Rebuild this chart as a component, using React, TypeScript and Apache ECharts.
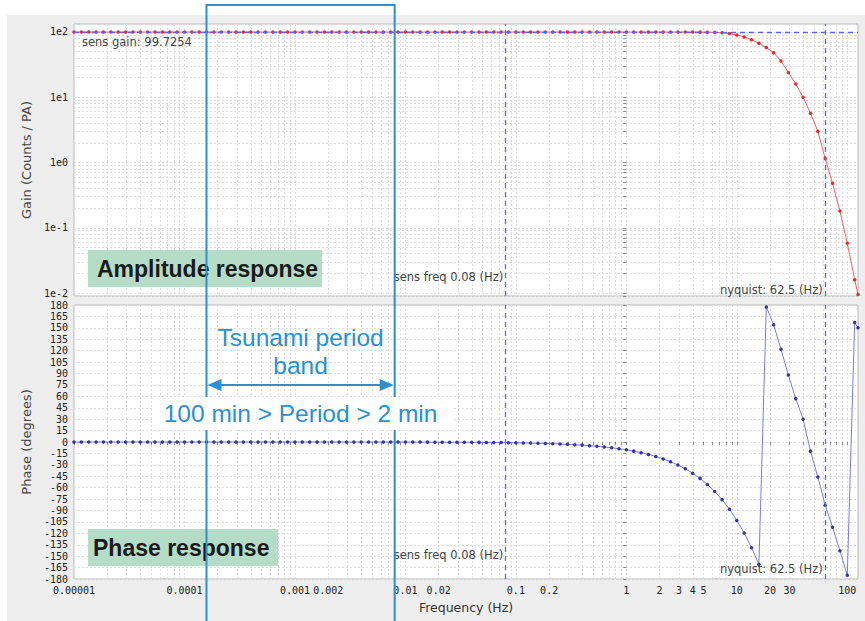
import React, { useEffect, useRef } from "react";
import * as echarts from "echarts";

// ---------- data ----------
const FREQ_HZ = [
  1e-5, 1.166e-5, 1.359e-5, 1.585e-5, 1.848e-5, 2.154e-5, 2.512e-5, 2.929e-5, 3.415e-5, 3.981e-5, 4.642e-5, 5.412e-5, 6.31e-5, 7.356e-5, 8.577e-5,
  1e-4, 1.166e-4, 1.359e-4, 1.585e-4, 1.848e-4, 2.154e-4, 2.512e-4, 2.929e-4, 3.415e-4, 3.981e-4, 4.642e-4, 5.412e-4, 6.31e-4, 7.356e-4, 8.577e-4,
  1e-3, 1.166e-3, 1.359e-3, 1.585e-3, 1.848e-3, 2.154e-3, 2.512e-3, 2.929e-3, 3.415e-3, 3.981e-3, 4.642e-3, 5.412e-3, 6.31e-3, 7.356e-3, 8.577e-3,
  1e-2, 1.166e-2, 1.359e-2, 1.585e-2, 1.848e-2, 2.154e-2, 2.512e-2, 2.929e-2, 3.415e-2, 3.981e-2, 4.642e-2, 5.412e-2, 6.31e-2, 7.356e-2, 8.577e-2,
  0.1, 0.1166, 0.1359, 0.1585, 0.1848, 0.2154, 0.2512, 0.2929, 0.3415, 0.3981, 0.4642, 0.5412, 0.631, 0.7356, 0.8577,
  1, 1.166, 1.359, 1.585, 1.848, 2.154, 2.512, 2.929, 3.415, 3.981, 4.642, 5.412, 6.31, 7.356, 8.577,
  10, 11.66, 13.59, 15.85, 18.48, 21.54, 25.12, 29.29, 34.15, 39.81, 46.42, 54.12, 63.1, 73.56, 85.77,
  100, 116.6, 125,
];

const GAIN_COUNTS_PER_PA = [
  99.73, 99.73, 99.73, 99.73, 99.73, 99.73, 99.73, 99.73, 99.73, 99.73, 99.73, 99.73, 99.73, 99.73, 99.73,
  99.73, 99.73, 99.73, 99.73, 99.73, 99.73, 99.73, 99.73, 99.73, 99.73, 99.73, 99.73, 99.73, 99.73, 99.73,
  99.73, 99.73, 99.73, 99.73, 99.73, 99.73, 99.73, 99.73, 99.73, 99.73, 99.73, 99.73, 99.73, 99.73, 99.73,
  99.73, 99.73, 99.73, 99.73, 99.73, 99.73, 99.73, 99.73, 99.73, 99.73, 99.73, 99.73, 99.73, 99.73, 99.73,
  99.73, 99.73, 99.73, 99.73, 99.73, 99.73, 99.73, 99.73, 99.73, 99.73, 99.73, 99.73, 99.73, 99.73, 99.73,
  99.73, 99.73, 99.73, 99.73, 99.73, 99.73, 99.73, 99.73, 99.72, 99.7, 99.5, 99.0, 98.8, 97.5, 94.5,
  90, 84, 76, 67, 58, 48, 36, 24, 16, 10, 5.7, 3.0, 1.15, 0.48, 0.18,
  0.058, 0.016, 0.0095,
];

const PHASE_DEG = [
  0, 0, 0, 0, 0, 0, 0, 0, 0, 0, 0, 0, 0, 0, 0,
  0, 0, 0, 0, 0, 0, 0, 0, 0, 0, 0, 0, 0, 0, 0,
  0, 0, 0, 0, 0, 0, 0, 0, 0, 0, 0, 0, 0, 0, 0,
  -0.1, -0.12, -0.14, -0.16, -0.19, -0.22, -0.26, -0.3, -0.35, -0.41, -0.48, -0.56, -0.65, -0.76, -0.88,
  -1.03, -1.2, -1.4, -1.63, -1.9, -2.2, -2.6, -3.0, -3.5, -4.1, -4.8, -5.6, -6.5, -7.6, -8.8,
  -10.3, -12.0, -14.0, -16.3, -19.0, -22.2, -25.9, -30.2, -35.2, -41.0, -47.8, -55.7, -65.0, -75.7, -88.3,
  -103, -119.6, -139, -160.5, 177.5, 154, 122, 88, 57, 30, -12, -46, -83, -112, -143,
  -175, 157, 150,
];

const X_LABEL_VALUES = [0.00001, 0.0001, 0.001, 0.002, 0.01, 0.02, 0.1, 0.2, 1, 2, 3, 4, 5, 10, 20, 30, 100];
const X_LABEL_TEXTS = ["0.00001", "0.0001", "0.001", "0.002", "0.01", "0.02", "0.1", "0.2", "1", "2", "3", "4", "5", "10", "20", "30", "100"];
const GAIN_LABEL_VALUES = [0.01, 0.1, 1, 10, 100];
const GAIN_LABEL_TEXTS = ["1e-2", "1e-1", "1e0", "1e1", "1e2"];

const F_MIN = 0.00001;
const F_MAX = 125;
const GAIN_MIN = 0.009;
const GAIN_MAX = 132.6;
const SENS_GAIN = 99.7254;
const SENS_FREQ = 0.08;
const NYQUIST = 62.5;
const BAND_PERIODS_MIN = [100, 2];

// ---------- layout / style ----------
const W = 865;
const H = 621;
const G0 = { left: 74, top: 24, width: 784, height: 272 };
const G1 = { left: 74, top: 305, width: 784, height: 274 };
const BLUE = "#2b8fd2";
const DASH = "#6464e0";
const GRIDLINE = { color: "#dedede", type: [2, 2] as number[], width: 1 };
const MONO = "DejaVu Sans Mono";
const SANS = "DejaVu Sans";
const ARIAL = "Liberation Sans";

const lg = (v: number) => Math.log10(v);

function minorLogValues(lo: number, hi: number): number[] {
  const out: number[] = [];
  for (let d = Math.floor(lg(lo)); d <= Math.ceil(lg(hi)); d++) {
    for (let m = 1; m <= 9; m++) {
      const v = m * Math.pow(10, d);
      if (v >= lo * 0.9999 && v <= hi * 1.0001) out.push(lg(v));
    }
  }
  return out;
}

function labelFrom(values: number[], texts: string[]) {
  return (v: number) => {
    for (let i = 0; i < values.length; i++) {
      if (Math.abs(lg(values[i]) - v) < 1e-6) return texts[i];
    }
    return "";
  };
}

function buildOption() {
  const xMinor = minorLogValues(F_MIN, F_MAX);
  const yMinor = minorLogValues(GAIN_MIN, GAIN_MAX);
  const xLabel = labelFrom(X_LABEL_VALUES, X_LABEL_TEXTS);
  const yLabel = labelFrom(GAIN_LABEL_VALUES, GAIN_LABEL_TEXTS);
  const dashStyle = { color: DASH, type: [5, 4] as number[], width: 1.3 };

  return {
    animation: false,
    backgroundColor: "#eeeeee",
    grid: [
      { ...G0, show: true, backgroundColor: "#ffffff", borderColor: "#b8b8b8", borderWidth: 1 },
      { ...G1, show: true, backgroundColor: "#ffffff", borderColor: "#b8b8b8", borderWidth: 1 },
    ],
    xAxis: [
      {
        gridIndex: 0,
        type: "value",
        min: lg(F_MIN),
        max: lg(F_MAX),
        axisLine: { show: false },
        axisTick: { show: false, customValues: xMinor },
        axisLabel: { show: false },
        splitLine: { show: true, lineStyle: GRIDLINE },
      },
      {
        gridIndex: 1,
        type: "value",
        min: lg(F_MIN),
        max: lg(F_MAX),
        name: "Frequency (Hz)",
        nameLocation: "middle",
        nameGap: 22,
        nameTextStyle: { fontFamily: SANS, fontSize: 12.5, color: "#333" },
        axisLine: { show: false },
        axisTick: { show: true, length: 3, lineStyle: { color: "#888" }, customValues: xMinor },
        axisLabel: {
          customValues: X_LABEL_VALUES.map(lg),
          formatter: xLabel,
          fontFamily: MONO,
          fontSize: 10,
          color: "#222",
          margin: 6,
        },
        splitLine: { show: true, lineStyle: GRIDLINE },
      },
    ],
    yAxis: [
      {
        gridIndex: 0,
        type: "value",
        min: lg(GAIN_MIN),
        max: lg(GAIN_MAX),
        name: "Gain (Counts / PA)",
        nameLocation: "middle",
        nameGap: 35,
        nameRotate: 90,
        nameTextStyle: { fontFamily: SANS, fontSize: 13, color: "#444" },
        axisLine: { show: false },
        axisTick: { show: true, length: 3, lineStyle: { color: "#888" }, customValues: yMinor },
        axisLabel: {
          customValues: GAIN_LABEL_VALUES.map(lg),
          formatter: yLabel,
          fontFamily: MONO,
          fontSize: 10,
          color: "#222",
          margin: 6,
        },
        splitLine: { show: true, lineStyle: GRIDLINE },
      },
      {
        gridIndex: 1,
        type: "value",
        min: -180,
        max: 180,
        interval: 15,
        name: "Phase (degrees)",
        nameLocation: "middle",
        nameGap: 35,
        nameRotate: 90,
        nameTextStyle: { fontFamily: SANS, fontSize: 13, color: "#444" },
        axisLine: { show: false },
        axisTick: { show: true, length: 3, lineStyle: { color: "#888" } },
        axisLabel: { fontFamily: MONO, fontSize: 10, color: "#222", margin: 6 },
        splitLine: { show: true, lineStyle: GRIDLINE },
      },
    ],
    series: [
      {
        name: "Gain",
        type: "line",
        xAxisIndex: 0,
        yAxisIndex: 0,
        data: FREQ_HZ.map((f, i) => [lg(f), lg(GAIN_COUNTS_PER_PA[i])]),
        symbol: "circle",
        symbolSize: 3.5,
        showSymbol: true,
        lineStyle: { color: "#f06060", width: 1 },
        itemStyle: { color: "#e52b2b" },
        markLine: {
          silent: true,
          symbol: "none",
          label: { show: false },
          lineStyle: dashStyle,
          data: [{ xAxis: lg(SENS_FREQ) }, { xAxis: lg(NYQUIST) }, { yAxis: lg(SENS_GAIN) }],
        },
      },
      {
        name: "Phase",
        type: "line",
        xAxisIndex: 1,
        yAxisIndex: 1,
        data: FREQ_HZ.map((f, i) => [lg(f), PHASE_DEG[i]]),
        symbol: "circle",
        symbolSize: 3.5,
        showSymbol: true,
        lineStyle: { color: "#7a7ae6", width: 1 },
        itemStyle: { color: "#3434a8" },
        markLine: {
          silent: true,
          symbol: "none",
          label: { show: false },
          lineStyle: dashStyle,
          data: [{ xAxis: lg(SENS_FREQ) }, { xAxis: lg(NYQUIST) }],
        },
      },
    ],
  };
}

function buildGraphics(chart: any) {
  const px = (f: number) => chart.convertToPixel({ gridIndex: 1 }, [lg(f), 0])[0];
  const x1 = px(1 / (BAND_PERIODS_MIN[0] * 60)) - 2.5;
  const x2 = px(1 / (BAND_PERIODS_MIN[1] * 60)) - 2;
  const xc = (x1 + x2) / 2;
  const xs = px(SENS_FREQ);
  const xn = px(NYQUIST);
  const b0 = G0.top + G0.height;
  const b1 = G1.top + G1.height;
  const small = (text: string, x: number, y: number, align: string) => ({
    type: "text",
    x,
    y,
    z: 50,
    style: { text, fill: "#444", font: `11.5px "${SANS}"`, textAlign: align, textVerticalAlign: "middle" },
  });
  const arrowY = 385;
  const els: any[] = [
    { type: "rect", shape: { x: 0, y: 0, width: W, height: 15 }, style: { fill: "#ffffff" }, z: 1 },
    { type: "rect", shape: { x: 0, y: 0, width: 7, height: H }, style: { fill: "#ffffff" }, z: 1 },
    small("sens gain: 99.7254", G0.left + 8, 42, "left"),
    small("sens freq 0.08 (Hz)", xs - 2, b0 - 19, "right"),
    small("nyquist: 62.5 (Hz)", xn - 2, b0 - 6, "right"),
    small("sens freq 0.08 (Hz)", xs - 2, b1 - 24, "right"),
    small("nyquist: 62.5 (Hz)", xn - 2, b1 - 10, "right"),
    // green labels
    { type: "rect", shape: { x: 88, y: 250, width: 234, height: 37 }, style: { fill: "#b5dcc7" }, z: 60 },
    {
      type: "text", x: 97, y: 268.5, z: 61,
      style: { text: "Amplitude response", fill: "#1a1a1a", font: `bold 23px "${ARIAL}"`, textAlign: "left", textVerticalAlign: "middle" },
    },
    { type: "rect", shape: { x: 88, y: 529, width: 190, height: 37 }, style: { fill: "#b5dcc7" }, z: 60 },
    {
      type: "text", x: 93, y: 547.5, z: 61,
      style: { text: "Phase response", fill: "#1a1a1a", font: `bold 23px "${ARIAL}"`, textAlign: "left", textVerticalAlign: "middle" },
    },
    // tsunami band outline
    {
      type: "polyline", z: 70,
      shape: { points: [[x1, H + 5], [x1, 5], [x2, 5], [x2, H + 5]] },
      style: { stroke: BLUE, lineWidth: 2, fill: null },
    },
    {
      type: "text", x: xc, y: 337, z: 72,
      style: { text: "Tsunami period", fill: BLUE, font: `24.5px "${ARIAL}"`, textAlign: "center", textVerticalAlign: "middle" },
    },
    {
      type: "text", x: xc, y: 365, z: 72,
      style: { text: "band", fill: BLUE, font: `24.5px "${ARIAL}"`, textAlign: "center", textVerticalAlign: "middle" },
    },
    {
      type: "line", z: 72,
      shape: { x1: x1 + 8, y1: arrowY, x2: x2 - 8, y2: arrowY },
      style: { stroke: BLUE, lineWidth: 2 },
    },
    {
      type: "polygon", z: 72,
      shape: { points: [[x1 + 1, arrowY], [x1 + 15, arrowY - 6], [x1 + 15, arrowY + 6]] },
      style: { fill: BLUE },
    },
    {
      type: "polygon", z: 72,
      shape: { points: [[x2 - 1, arrowY], [x2 - 15, arrowY - 6], [x2 - 15, arrowY + 6]] },
      style: { fill: BLUE },
    },
    { type: "rect", shape: { x: 152, y: 397, width: 300, height: 33 }, style: { fill: "#ffffff" }, z: 71 },
    {
      type: "text", x: xc, y: 413, z: 72,
      style: { text: "100 min > Period > 2 min", fill: BLUE, font: `24.5px "${ARIAL}"`, textAlign: "center", textVerticalAlign: "middle" },
    },
  ];
  return els;
}

export default function App() {
  const ref = useRef<HTMLDivElement>(null);
  useEffect(() => {
    if (!ref.current) return;
    const chart = echarts.init(ref.current, null, { renderer: "svg", width: W, height: H });
    chart.setOption(buildOption() as any);
    chart.setOption({ graphic: { elements: buildGraphics(chart) } } as any);
    return () => chart.dispose();
  }, []);
  return <div ref={ref} style={{ position: "absolute", left: 0, top: 0, width: W, height: H }} />;
}
